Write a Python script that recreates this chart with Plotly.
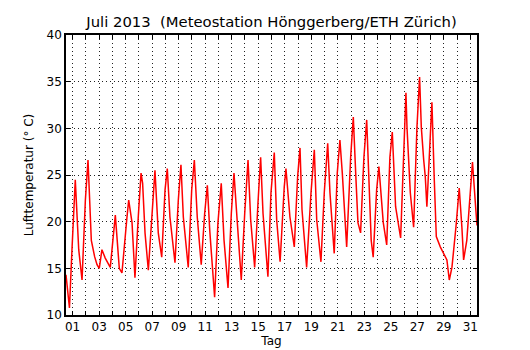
import plotly.graph_objects as go

# time in days since 1 July 2013 00:00, temperature in deg C
days = [0.0, 0.26, 0.45, 0.70, 0.96, 1.21, 1.46, 1.66, 1.91, 2.16, 2.34, 2.51, 2.71, 2.96,
        3.34, 3.72, 4.02, 4.22, 4.60, 4.73, 4.98, 5.20, 5.45, 5.66, 5.78, 5.96, 6.21, 6.54,
        6.71, 6.96, 7.22, 7.47, 7.64, 7.84, 8.22, 8.47, 8.67, 8.85, 9.22, 9.48, 9.68, 9.90,
        10.20, 10.46, 10.66, 10.84, 11.09, 11.21, 11.46, 11.71, 11.92, 12.22, 12.47, 12.67,
        12.84, 13.02, 13.22, 13.48, 13.73, 13.93, 14.23, 14.48, 14.68, 14.86, 15.23, 15.46,
        15.71, 15.89, 16.15, 16.46, 16.59, 16.89, 17.10, 17.22, 17.47, 17.65, 17.80, 18.15,
        18.48, 18.73, 18.91, 19.23, 19.48, 19.74, 19.91, 20.23, 20.46, 20.66, 20.84, 21.09,
        21.17, 21.47, 21.67, 21.85, 22.02, 22.22, 22.47, 22.68, 22.85, 23.02, 23.17, 23.43,
        23.60, 23.73, 23.93, 24.19, 24.43, 24.61, 24.86, 25.24, 25.49, 25.64, 25.72, 25.97,
        26.22, 26.47, 26.67, 26.80, 26.98, 27.10, 27.22, 27.47, 27.60, 27.77, 27.93, 28.23,
        28.48, 28.73, 28.91, 29.11, 29.41, 29.66, 29.86, 29.99, 30.23, 30.48, 30.66, 30.91,
        31.0]
temps = [14.3, 10.75, 17.0, 24.5, 17.0, 13.75, 22.3, 26.6, 18.0, 16.25, 15.4, 15.0, 17.0, 16.1,
         15.1, 20.7, 15.0, 14.5, 20.5, 22.3, 19.9, 14.0, 20.5, 25.2, 24.1, 18.8, 14.8, 22.3,
         25.5, 18.8, 16.2, 23.4, 25.7, 20.5, 15.6, 22.3, 26.1, 20.5, 15.1, 23.4, 26.6, 20.5,
         15.4, 20.9, 23.9, 19.1, 13.75, 11.9, 19.9, 24.1, 18.0, 12.9, 20.9, 25.2,
         21.6, 17.3, 13.75, 20.9, 26.6, 20.2, 15.1, 22.0, 26.9, 20.9, 14.1, 23.1,
         27.4, 20.2, 15.7, 23.7, 25.7, 20.5, 18.4, 17.3, 24.8, 27.9, 21.3, 15.1,
         23.1, 27.7, 20.2, 15.7, 23.1, 28.4, 23.1, 16.6, 25.2, 28.75, 25.2, 18.0,
         17.3, 26.9, 31.2, 25.2, 19.9, 18.8, 26.9, 30.9, 23.4, 18.0, 16.2, 23.4,
         25.9, 23.4, 19.9, 17.5, 26.9, 29.6, 21.6, 18.25, 28.75, 33.8, 30.1, 23.1,
         19.4, 30.1, 35.5, 30.1, 26.6, 24.8, 21.6, 28.4, 32.8, 24.8, 18.4, 17.3,
         16.6, 15.9, 13.75, 15.1, 19.4, 23.6, 19.4, 15.9, 18.0, 23.1, 26.4, 21.3,
         19.6]

day_numbers = list(range(1, 32))
tick_positions = [d - 0.5 for d in day_numbers]
tick_labels = [f"{d:02d}" if d % 2 == 1 else "" for d in day_numbers]
y_ticks = [10, 15, 20, 25, 30, 35, 40]

fig = go.Figure()
fig.add_trace(go.Scatter(x=days, y=temps, mode="lines",
                         line=dict(color="#ff0000", width=1.5), showlegend=False))

W, H = 522, 342
fig.update_layout(
    width=W, height=H,
    margin=dict(l=58, r=53, t=27, b=35),
    paper_bgcolor="white", plot_bgcolor="white",
    font=dict(family="DejaVu Sans", size=12, color="black"),
    title=dict(text="Juli 2013  (Meteostation Hönggerberg/ETH Zürich)",
               x=0.5, xref="paper", y=1 - 14 / H, yref="container",
               xanchor="center", yanchor="middle",
               font=dict(family="DejaVu Sans", size=14.8, color="black")),
)
grid = dict(showgrid=True, gridcolor="#222222", griddash="1px,3px", gridwidth=1)
fig.update_xaxes(range=[0, 31], tickmode="array", tickvals=tick_positions, ticktext=tick_labels,
                 ticks="inside", ticklen=4, tickcolor="black", mirror="ticks",
                 showline=True, linecolor="black", linewidth=1.5, automargin=False,
                 zeroline=False, tickfont=dict(size=12),
                 title=dict(text="Tag", standoff=1, font=dict(size=12)), **grid)
fig.update_yaxes(range=[10, 40], tickmode="array", tickvals=y_ticks,
                 ticks="inside", ticklen=4, tickcolor="black", mirror="ticks",
                 showline=True, linecolor="black", linewidth=1.5, automargin=False,
                 zeroline=False, tickfont=dict(size=12),
                 title=dict(text="Lufttemperatur (° C)", standoff=10, font=dict(size=12)), **grid)

fig.write_html("out.html")
